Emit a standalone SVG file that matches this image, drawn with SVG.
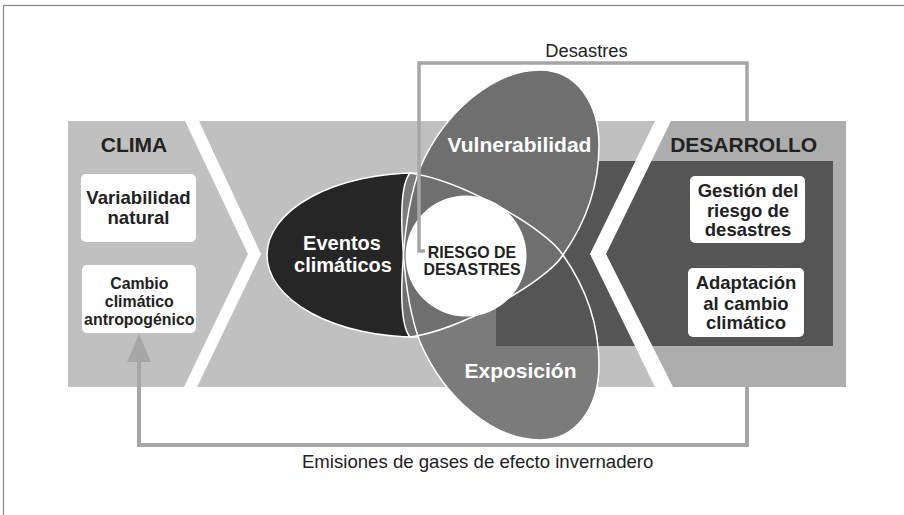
<svg xmlns="http://www.w3.org/2000/svg" xmlns:xlink="http://www.w3.org/1999/xlink" width="904" height="515" viewBox="0 0 904 515">
<style>
  .t { font-family: "Liberation Sans", Arial, sans-serif; }
  .b { font-weight: bold; }
  .dark { fill: #222222; }
  .wt { fill: #ffffff; }
  .box { fill: #ffffff; }
  .outline { fill: none; stroke: #ffffff; stroke-width: 1.5; }
  .conn { fill: none; stroke: #a6a6a6; }
</style>
<defs>
  <path id="petal" d="M 540,70 C 578,70 599,105 599,145 C 599,190 582,228 563,255 C 546,282 460,330 410,337 C 400,325 401,290 403,262 C 405,228 410,195 420,168 C 445,110 495,70 540,70 Z"/>
</defs>
<rect x="0" y="0" width="904" height="515" fill="#ffffff"/>
<rect x="3.5" y="5.5" width="920" height="530" fill="none" stroke="#8c8c8c" stroke-width="1.3"/>

<g id="bands">
  <rect x="68" y="121" width="778" height="266" fill="#c0c0c0"/>
  <polygon points="663,121 846,121 846,387 664,387 598,254" fill="#adadad"/>
</g>

<g id="node-eventos">
  <ellipse cx="417" cy="255" rx="150" ry="82" fill="#262626" stroke="#ffffff" stroke-width="1.5"/>
</g>

<g id="node-exposicion-fill">
  <use xlink:href="#petal" href="#petal" transform="matrix(1 0 0 -1 0 510)" fill="#7b7b7b"/>
</g>

<g id="desarrollo-panel">
  <rect x="496" y="161" width="337" height="185" fill="#555555"/>
</g>

<g id="chevrons" fill="#ffffff">
  <polygon points="185,121 199,121 261,254 197,387 184,387 248,254"/>
  <polygon points="655,121 671,121 606,254 673,387 655,387 590,254"/>
</g>

<g id="node-vulnerabilidad-fill">
  <use xlink:href="#petal" href="#petal" fill="#6f6f6f"/>
</g>

<g id="outlines">
  <use xlink:href="#petal" href="#petal" class="outline"/>
  <use xlink:href="#petal" href="#petal" transform="matrix(1 0 0 -1 0 510)" class="outline"/>
</g>

<g id="node-riesgo">
  <circle cx="466" cy="256" r="60.5" fill="#ffffff"/>
</g>

<g id="connectors">
  <polyline class="conn" stroke-width="3.5" points="425,251 419,251 419,63 747,63 747,121"/>
  <polyline class="conn" stroke-width="4" points="747,387 747,445 139,445 139,356"/>
  <polygon points="139,334 127,362 151,362" fill="#a6a6a6"/>
  <text class="t dark" x="586.5" y="57.3" font-size="18.3" text-anchor="middle">Desastres</text>
  <text class="t dark" x="477.7" y="468.3" font-size="18.6" text-anchor="middle">Emisiones de gases de efecto invernadero</text>
</g>

<g id="node-riesgo-label">
  <text class="t b dark" x="472" y="258" font-size="15.9" text-anchor="middle">RIESGO DE</text>
  <text class="t b dark" x="472" y="275" font-size="15.9" text-anchor="middle">DESASTRES</text>
</g>

<g id="node-eventos-label">
  <text class="t b wt" x="342" y="250" font-size="20" text-anchor="middle">Eventos</text>
  <text class="t b wt" x="343" y="271.7" font-size="20" text-anchor="middle">climáticos</text>
</g>

<g id="node-vulnerabilidad">
  <text class="t b wt" x="519.5" y="152" font-size="21" text-anchor="middle">Vulnerabilidad</text>
</g>

<g id="node-exposicion">
  <text class="t b wt" x="520.5" y="378" font-size="21" text-anchor="middle">Exposición</text>
</g>

<g id="node-clima">
  <text class="t b dark" x="134" y="151.7" font-size="21" text-anchor="middle">CLIMA</text>
</g>

<g id="node-variabilidad">
  <rect class="box" x="81" y="174" width="115" height="68" rx="5"/>
  <text class="t b dark" x="138.5" y="204" font-size="18.6" text-anchor="middle">Variabilidad</text>
  <text class="t b dark" x="138.5" y="224" font-size="18.6" text-anchor="middle">natural</text>
</g>

<g id="node-cambio">
  <rect class="box" x="82" y="265" width="114" height="68" rx="5"/>
  <text class="t b dark" x="139.3" y="289" font-size="15.9" text-anchor="middle">Cambio</text>
  <text class="t b dark" x="139.3" y="307" font-size="15.9" text-anchor="middle">climático</text>
  <text class="t b dark" x="139.3" y="324.5" font-size="15.9" text-anchor="middle">antropogénico</text>
</g>

<g id="node-desarrollo">
  <text class="t b dark" x="743.7" y="151.7" font-size="21" text-anchor="middle">DESARROLLO</text>
</g>

<g id="node-gestion">
  <rect class="box" x="690" y="176" width="115" height="67" rx="5"/>
  <text class="t b dark" x="748" y="196.7" font-size="18.5" text-anchor="middle">Gestión del</text>
  <text class="t b dark" x="748" y="216.5" font-size="18.5" text-anchor="middle">riesgo de</text>
  <text class="t b dark" x="748" y="236" font-size="18.5" text-anchor="middle">desastres</text>
</g>

<g id="node-adaptacion">
  <rect class="box" x="688" y="268" width="116" height="69" rx="5"/>
  <text class="t b dark" x="746" y="289" font-size="18.5" text-anchor="middle">Adaptación</text>
  <text class="t b dark" x="746" y="309.5" font-size="18.5" text-anchor="middle">al cambio</text>
  <text class="t b dark" x="746" y="329" font-size="18.5" text-anchor="middle">climático</text>
</g>
</svg>
